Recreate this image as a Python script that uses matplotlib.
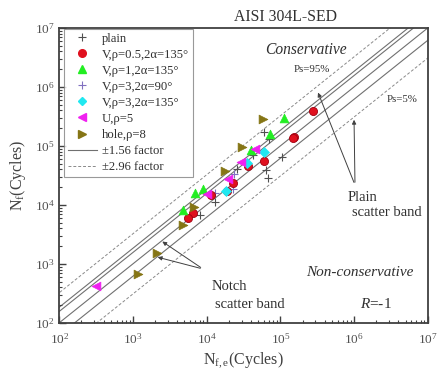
import numpy as np
import matplotlib
matplotlib.use("Agg")
import matplotlib.pyplot as plt
from matplotlib.lines import Line2D

plt.rcParams['font.family'] = ['Liberation Serif', 'DejaVu Serif']
plt.rcParams['mathtext.fontset'] = 'custom'
plt.rcParams['mathtext.rm'] = 'Liberation Serif'
plt.rcParams['mathtext.it'] = 'Liberation Serif:italic'

# ---- data: estimated life (x) vs experimental life (y), cycles ----
plain_x = [59.8e3, 70.7e3, 42e3, 104e3, 63.8e3, 68.5e3, 13e3, 8.1e3, 25.5e3]
plain_y = [171e3, 130e3, 70.3e3, 64.3e3, 39.2e3, 28.3e3, 11.3e3, 6.75e3, 40.2e3]

v3_90_x = [23.7e3, 23e3, 12.9e3]
v3_90_y = [33.5e3, 18.4e3, 15.7e3]

red_x = [36.7e3, 60.5e3, 23e3, 19.1e3, 11.4e3, 6.45e3, 5.63e3, 279e3, 155e3, 147e3]
red_y = [45.7e3, 55.6e3, 23.8e3, 17.4e3, 14.7e3, 7.2e3, 5.9e3, 393e3, 144e3, 135e3]

green_x = [112e3, 72.2e3, 39.9e3, 6.9e3, 8.8e3, 4.72e3]
green_y = [295e3, 158e3, 85.5e3, 16.1e3, 18.4e3, 8.2e3]

cyan_x = [60e3, 35.6e3, 18.3e3]
cyan_y = [78.2e3, 50.8e3, 17.4e3]

mag_x = [45.2e3, 29.2e3, 19.3e3, 10e3, 312]
mag_y = [87.9e3, 54.1e3, 27.5e3, 15.1e3, 420]

hole_x = [58.6e3, 29.9e3, 17.7e3, 6.8e3, 4.72e3, 1180, 2100]
hole_y = [284e3, 97.3e3, 38.1e3, 9.1e3, 4.56e3, 671, 1550]

# scatter band line factors
solid_factors = [1.84, 1.56, 1.0, 1 / 1.62]
dashed_factors = [3.24, 1 / 3.24]

fig = plt.figure(figsize=(4.37, 3.71), dpi=100)
ax = fig.add_axes([0.1357, 0.130, 0.843, 0.7945])
ax.set_xscale('log')
ax.set_yscale('log')
ax.set_xlim(1e2, 1e7)
ax.set_ylim(1e2, 1e7)

xx = np.array([1e1, 1e8])
for f in solid_factors:
    ax.plot(xx, xx * f, color='#707070', lw=0.8, zorder=1)
for f in dashed_factors:
    ax.plot(xx, xx * f, color='#8a8a8a', lw=0.7, ls=(0, (3, 2)), zorder=1)

ax.scatter(plain_x, plain_y, marker='+', s=40, c='#505050', lw=0.8, zorder=3)
ax.scatter(v3_90_x, v3_90_y, marker='+', s=40, c='#8070c0', lw=0.8, zorder=3)
ax.scatter(red_x, red_y, marker='o', s=34, c='#e0101e', edgecolors='#a00010', lw=0.6, zorder=3)
ax.scatter(green_x, green_y, marker='^', s=40, c='#22ee22', edgecolors='#22ee22', lw=0.5, zorder=3)
ax.scatter(cyan_x, cyan_y, marker='D', s=26, c='#20e8f0', edgecolors='#20e8f0', lw=0.5, zorder=3)
ax.scatter(mag_x, mag_y, marker='<', s=40, c='#f020f0', edgecolors='#f020f0', lw=0.5, zorder=3)
ax.scatter(hole_x, hole_y, marker='>', s=40, c='#857515', edgecolors='#857515', lw=0.5, zorder=3)

# axes styling
for sp in ax.spines.values():
    sp.set_color('#404040')
    sp.set_linewidth(1.3)
ax.tick_params(which='both', direction='in', top=False, right=False,
               colors='#404040', labelcolor='#505050', labelsize=9.5)
ax.tick_params(which='major', length=5, width=1.0)
ax.tick_params(which='minor', length=2.5, width=0.8)
ax.tick_params(axis='x', pad=7)
ax.xaxis.set_major_locator(matplotlib.ticker.LogLocator(base=10, numticks=10))
ax.yaxis.set_major_locator(matplotlib.ticker.LogLocator(base=10, numticks=10))
ax.xaxis.set_minor_locator(matplotlib.ticker.LogLocator(base=10, subs=np.arange(2, 10), numticks=20))
ax.yaxis.set_minor_locator(matplotlib.ticker.LogLocator(base=10, subs=np.arange(2, 10), numticks=20))

ax.set_xlabel(r'N$_{\mathrm{f,e}}$(Cycles)', fontsize=11.5, color='#404040', labelpad=2)
ax.set_ylabel(r'N$_{\mathrm{f}}$(Cycles)', fontsize=11.5, color='#404040', labelpad=5)

fig.text(286 / 437, 1 - 17 / 371, 'AISI 304L-SED', ha='center', va='center',
         fontsize=11.3, color='#303030')

# legend
handles = [
    Line2D([], [], ls='none', marker='+', ms=6, mew=0.8, color='#505050'),
    Line2D([], [], ls='none', marker='o', ms=5.5, color='#e0101e'),
    Line2D([], [], ls='none', marker='^', ms=6, color='#22ee22'),
    Line2D([], [], ls='none', marker='+', ms=6, mew=0.8, color='#8070c0'),
    Line2D([], [], ls='none', marker='D', ms=4.5, color='#20e8f0'),
    Line2D([], [], ls='none', marker='<', ms=6, color='#f020f0'),
    Line2D([], [], ls='none', marker='>', ms=6, color='#857515'),
    Line2D([], [], color='#707070', lw=0.8),
    Line2D([], [], color='#8a8a8a', lw=0.7, ls=(0, (3, 2))),
]
labels = ['plain', 'V,ρ=0.5,2α=135°', 'V,ρ=1,2α=135°', 'V,ρ=3,2α=90°',
          'V,ρ=3,2α=135°', 'U,ρ=5', 'hole,ρ=8', '±1.56 factor', '±2.96 factor']
leg = ax.legend(handles, labels, loc='upper left', bbox_to_anchor=(0.012, 0.997),
                fontsize=9.1, frameon=True, fancybox=False, borderpad=0.3,
                labelspacing=0.32, handlelength=2.3, handletextpad=0.4,
                borderaxespad=0.0)
leg.get_frame().set_edgecolor('#808080')
leg.get_frame().set_linewidth(0.8)
for t in leg.get_texts():
    t.set_color('#303030')

# annotations
def fx(px):
    return px / 437.0

def fy(py):
    return 1 - py / 371.0

tc = '#303030'
fig.text(fx(306), fy(50), 'Conservative', ha='center', va='center', fontsize=11.2, style='italic', color=tc)
fig.text(fx(312), fy(70), 'Ps=95%', ha='center', va='center', fontsize=7.8, color=tc)
fig.text(fx(402), fy(100), 'Ps=5%', ha='center', va='center', fontsize=7.8, color=tc)
fig.text(fx(348), fy(197), 'Plain', ha='left', va='center', fontsize=10.5, color=tc)
fig.text(fx(352), fy(212), 'scatter band', ha='left', va='center', fontsize=10.5, color=tc)
fig.text(fx(212), fy(287), 'Notch', ha='left', va='center', fontsize=10.5, color=tc)
fig.text(fx(215), fy(304), 'scatter band', ha='left', va='center', fontsize=10.5, color=tc)
fig.text(fx(360), fy(272), 'Non-conservative', ha='center', va='center', fontsize=11, style='italic', color=tc)
fig.text(fx(376), fy(304), r'$\mathit{R}$=-1', ha='center', va='center', fontsize=11, color=tc)

# arrows (figure coordinates)
akw = dict(arrowstyle='-|>', color='#404040', lw=0.7, mutation_scale=6)
for tip in [(317, 90), (354, 117)]:
    ax.annotate('', xy=(fx(tip[0]), fy(tip[1])), xycoords='figure fraction',
                xytext=(fx(355), fy(185)), textcoords='figure fraction',
                arrowprops=akw)
for tip in [(160, 240), (155, 256.5)]:
    ax.annotate('', xy=(fx(tip[0]), fy(tip[1])), xycoords='figure fraction',
                xytext=(fx(203), fy(269)), textcoords='figure fraction',
                arrowprops=akw)

fig.savefig('out.png', dpi=100)
